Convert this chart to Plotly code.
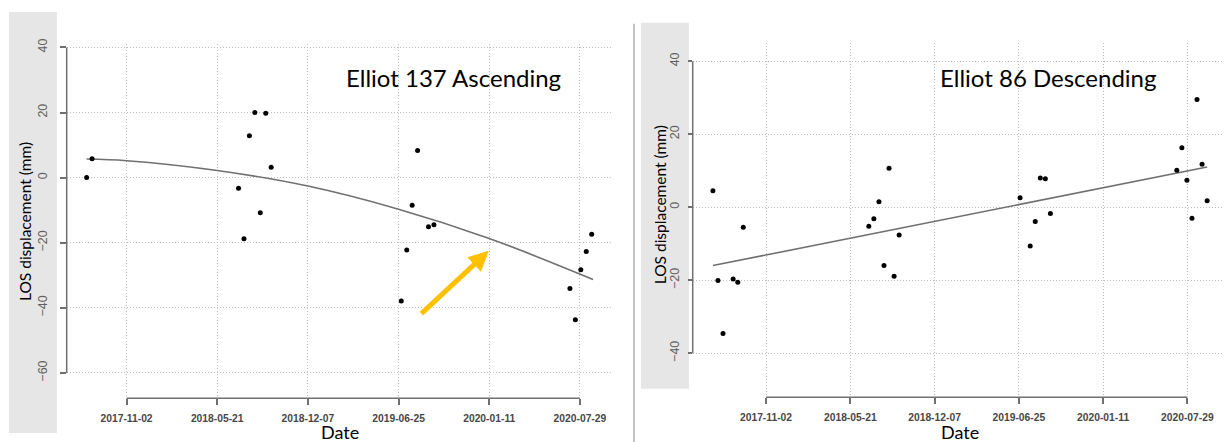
import plotly.graph_objects as go

W, H = 1224, 442

# ---------------- data ----------------
asc_dates = ["2017-08-06", "2017-08-18", "2018-07-07", "2018-07-19", "2018-07-31", "2018-08-12",
             "2018-08-24", "2018-09-05", "2018-09-17", "2019-07-01", "2019-07-13", "2019-07-25",
             "2019-08-06", "2019-08-30", "2019-09-11", "2020-07-07", "2020-07-19", "2020-07-31",
             "2020-08-12", "2020-08-24"]
asc_vals = [0.0, 5.8, -3.3, -18.8, 12.9, 20.0, -10.8, 19.8, 3.2, -37.9, -22.2, -8.5,
            8.3, -15.1, -14.5, -34.1, -43.7, -28.3, -22.7, -17.4]
asc_trend_dates = ["2017-08-06", "2017-11-02", "2018-05-21", "2018-12-07", "2019-06-25",
                   "2020-01-11", "2020-08-27"]
asc_trend_vals = [5.7, 5.2, 2.2, -2.6, -9.7, -18.7, -31.3]

desc_dates = ["2017-06-29", "2017-07-11", "2017-07-23", "2017-08-16", "2017-08-27", "2017-09-09",
              "2018-07-04", "2018-07-16", "2018-07-28", "2018-08-09", "2018-08-21", "2018-09-02",
              "2018-09-14", "2019-06-28", "2019-07-22", "2019-08-03", "2019-08-15", "2019-08-27",
              "2019-09-08", "2020-07-04", "2020-07-16", "2020-07-28", "2020-08-09", "2020-08-21",
              "2020-09-02", "2020-09-14"]
desc_vals = [4.5, -20.1, -34.6, -19.7, -20.6, -5.5, -5.2, -3.2, 1.5, -16.0, 10.7, -18.9,
             -7.6, 2.6, -10.6, -3.9, 8.0, 7.8, -1.7, 10.1, 16.3, 7.4, -3.0, 29.5, 11.8, 1.8]
desc_trend_dates = ["2017-06-29", "2020-09-14"]
desc_trend_vals = [-16.0, 11.0]

x_ticks = ["2017-11-02", "2018-05-21", "2018-12-07", "2019-06-25", "2020-01-11", "2020-07-29"]
asc_yticks = [-60, -40, -20, 0, 20, 40]
desc_yticks = [-40, -20, 0, 20, 40]

arrow_tail = ("2019-08-11", -42.2)
arrow_tip = ("2020-01-10", -22.5)

# ---------------- helpers ----------------
def px(x):
    return x / W

def py(y):
    return 1 - y / H

GRID = "#bdbdbd"
GRIDDASH = "1px,2px"
AX = "#707070"
TICKFONT_X = dict(family="Liberation Sans", size=10.3, color="#474747", weight="bold")
TICKFONT_Y = dict(family="Liberation Sans", size=12.5, color="#606060")

fig = go.Figure()

fig.add_trace(go.Scatter(x=asc_trend_dates, y=asc_trend_vals, mode="lines",
                         line=dict(color="#707070", width=1.6, shape="spline"),
                         xaxis="x", yaxis="y", showlegend=False, hoverinfo="skip"))
fig.add_trace(go.Scatter(x=asc_dates, y=asc_vals, mode="markers",
                         marker=dict(color="black", size=5),
                         xaxis="x", yaxis="y", showlegend=False))
fig.add_trace(go.Scatter(x=desc_trend_dates, y=desc_trend_vals, mode="lines",
                         line=dict(color="#707070", width=1.6),
                         xaxis="x2", yaxis="y2", showlegend=False, hoverinfo="skip"))
fig.add_trace(go.Scatter(x=desc_dates, y=desc_vals, mode="markers",
                         marker=dict(color="black", size=5),
                         xaxis="x2", yaxis="y2", showlegend=False))

common_x = dict(type="date", tickvals=x_ticks, ticktext=x_ticks, showgrid=True,
                gridcolor=GRID, griddash=GRIDDASH, gridwidth=1, zeroline=False,
                showline=False, ticks="outside", ticklen=6, tickcolor=AX, tickwidth=1.5,
                tickfont=TICKFONT_X, tickangle=0, ticklabelstandoff=4)
common_y = dict(showgrid=True, gridcolor=GRID, griddash=GRIDDASH, gridwidth=1, zeroline=False,
                showline=False, ticks="outside", ticklen=6, tickcolor=AX, tickwidth=1.5,
                tickfont=TICKFONT_Y, tickangle=-90)

fig.update_layout(
    width=W, height=H,
    margin=dict(l=0, r=0, t=0, b=0),
    paper_bgcolor="white", plot_bgcolor="white",
    xaxis=dict(common_x, domain=[px(66.7), px(613)], range=["2017-06-23", "2020-10-10"],
               anchor="y"),
    yaxis=dict(common_y, domain=[py(397.7), py(38.7)], range=[-67.8, 41],
               tickvals=asc_yticks, anchor="x", ticklabelstandoff=8),
    xaxis2=dict(common_x, domain=[px(692.7), 1.0], range=["2017-05-12", "2020-10-24"],
                anchor="y2"),
    yaxis2=dict(common_y, domain=[py(396.7), py(37.5)], range=[-52.1, 45],
                tickvals=desc_yticks, anchor="x2", ticklen=4, ticklabelstandoff=4),
)

shapes = []
# grey label boxes
shapes.append(dict(type="rect", xref="paper", yref="paper", x0=px(9), x1=px(57), y0=py(433), y1=py(6),
                   fillcolor="#e6e6e6", line=dict(width=0), layer="below"))
shapes.append(dict(type="rect", xref="paper", yref="paper", x0=px(641), x1=px(689), y0=py(388), y1=py(17),
                   fillcolor="#e6e6e6", line=dict(width=0), layer="below"))
# separator
shapes.append(dict(type="line", xref="paper", yref="paper", x0=px(634), x1=px(634), y0=py(18), y1=0,
                   line=dict(color="#8a8a8a", width=1)))
# axis lines (R-style, first to last tick)
shapes.append(dict(type="line", xref="x domain", yref="y", x0=0, x1=0, y0=asc_yticks[0], y1=asc_yticks[-1],
                   line=dict(color=AX, width=1.5)))
shapes.append(dict(type="line", xref="x", yref="y domain", x0=x_ticks[0], x1=x_ticks[-1], y0=0, y1=0,
                   line=dict(color=AX, width=1.5)))
shapes.append(dict(type="line", xref="x2 domain", yref="y2", x0=0, x1=0, y0=desc_yticks[0], y1=desc_yticks[-1],
                   line=dict(color=AX, width=1.5)))
shapes.append(dict(type="line", xref="x2", yref="y2 domain", x0=x_ticks[0], x1=x_ticks[-1], y0=0, y1=0,
                   line=dict(color=AX, width=1.5)))
fig.update_layout(shapes=shapes)

TITLE_FONT = dict(family="Lato", size=24, color="black")
LABEL_FONT = dict(family="Lato", size=15.5, color="black")
annots = [
    dict(text="Elliot 137 Ascending", xref="paper", yref="paper", x=px(453), y=py(72),
         showarrow=False, font=TITLE_FONT, xanchor="center", yanchor="middle"),
    dict(text="Elliot 86 Descending", xref="paper", yref="paper", x=px(1048), y=py(72),
         showarrow=False, font=TITLE_FONT, xanchor="center", yanchor="middle"),
    dict(text="LOS displacement (mm)", xref="paper", yref="paper", x=px(25), y=py(219),
         showarrow=False, font=LABEL_FONT, textangle=-90, xanchor="center", yanchor="middle"),
    dict(text="LOS displacement (mm)", xref="paper", yref="paper", x=px(660), y=py(202),
         showarrow=False, font=LABEL_FONT, textangle=-90, xanchor="center", yanchor="middle"),
    dict(text="Date", xref="paper", yref="paper", x=px(340), y=py(432),
         showarrow=False, font=dict(family="Lato", size=18, color="black"),
         xanchor="center", yanchor="middle"),
    dict(text="Date", xref="paper", yref="paper", x=px(960), y=py(432),
         showarrow=False, font=dict(family="Lato", size=18, color="black"),
         xanchor="center", yanchor="middle"),
    dict(text="", x=arrow_tip[0], y=arrow_tip[1], xref="x", yref="y",
         ax=arrow_tail[0], ay=arrow_tail[1], axref="x", ayref="y",
         showarrow=True, arrowhead=2, arrowsize=0.8, arrowwidth=5, arrowcolor="#ffc000"),
]
fig.update_layout(annotations=annots)

fig.write_html("out.html", config={"displayModeBar": False},
               post_script="document.body.style.margin='0';document.body.style.overflow='hidden';")
